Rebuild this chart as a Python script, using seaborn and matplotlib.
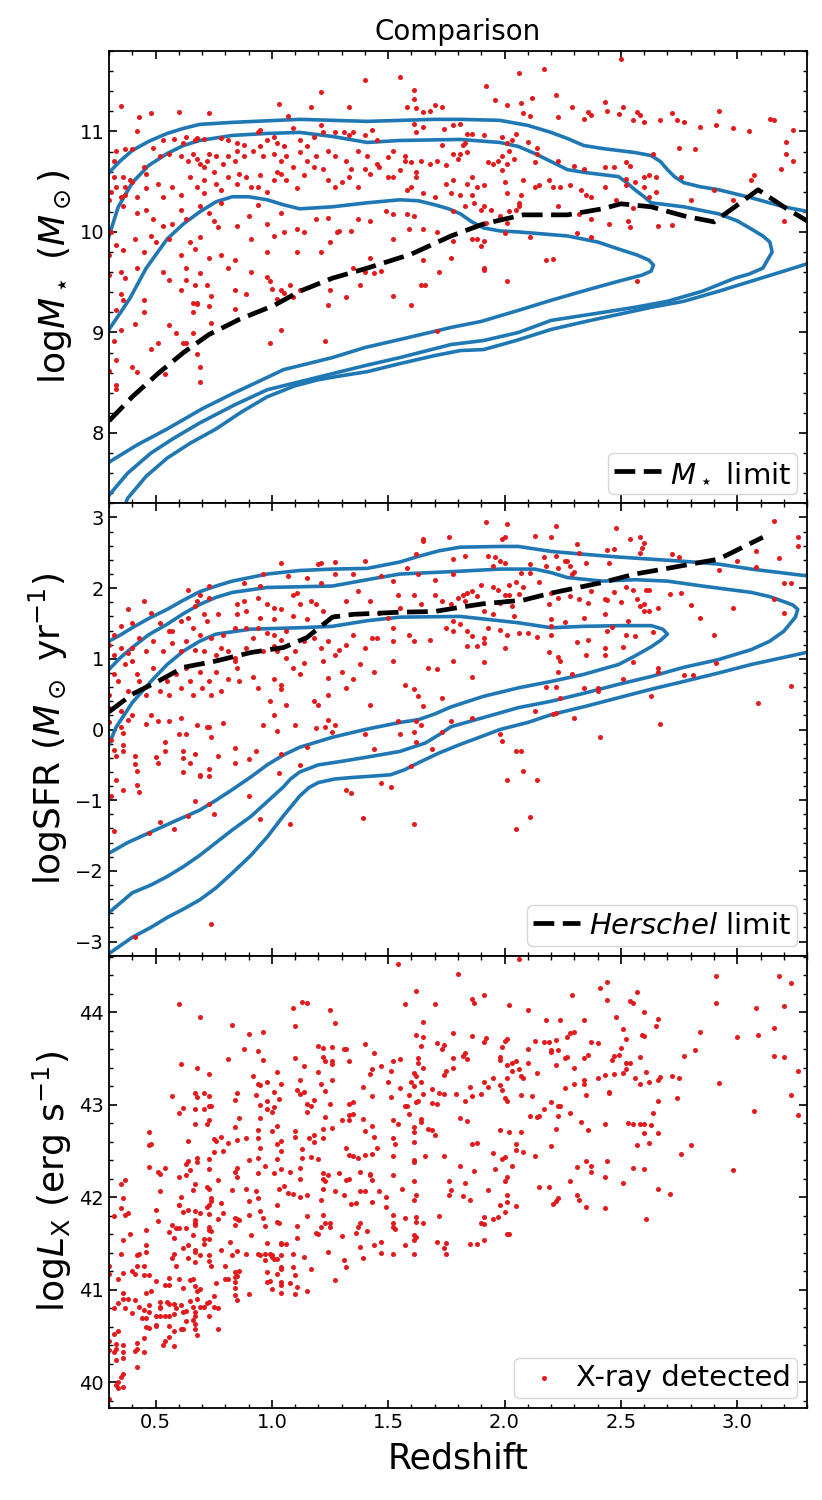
import matplotlib
matplotlib.use("Agg")
import matplotlib.pyplot as plt
from matplotlib.ticker import MultipleLocator, AutoMinorLocator
import seaborn as sns

RED = "#e31a1c"
BLUE = "#1f77b4"

# ---------------- top panel: stellar mass (z, logM*) ----------------
mass_points = [
    (0.35,11.25),(0.43,11.14),(0.48,11.18),(0.60,11.19),(0.73,11.18),(1.03,11.27),(1.07,11.15),(1.17,11.24),
    (1.21,11.39),(1.33,11.24),(1.40,11.51),(1.55,11.54),(1.61,11.41),(1.61,11.32),(1.58,11.24),(1.62,11.23),
    (1.65,11.19),(1.68,11.20),(1.70,11.26),(1.73,11.24),(0.42,11.00),(0.33,10.81),(0.37,10.83),(0.40,10.83),
    (0.49,10.84),(0.53,10.91),(0.58,10.92),(0.62,10.88),(0.63,10.94),(0.67,10.91),(0.68,10.93),(0.71,10.92),
    (0.78,10.93),(0.81,10.91),(0.85,10.88),(0.88,10.86),(0.94,10.99),(0.95,11.01),(0.98,10.91),(1.01,10.94),
    (1.02,10.88),(1.05,10.85),(1.09,11.03),(1.12,10.91),(1.15,10.85),(1.18,10.94),(1.21,11.06),(1.22,10.99),
    (1.27,10.99),(1.31,10.99),(1.33,10.96),(1.35,10.99),(1.40,10.96),(1.43,11.01),(1.45,10.91),(1.52,10.81),
    (1.57,10.76),(1.61,11.07),(1.62,10.99),(1.65,11.04),(1.74,11.02),(1.78,11.06),(1.81,11.07),(1.73,10.86),
    (1.78,10.78),(0.32,10.71),(0.32,10.55),(0.36,10.55),(0.33,10.45),(0.37,10.45),(0.40,10.50),(0.45,10.65),
    (0.46,10.58),(0.52,10.76),(0.56,10.78),(0.61,10.76),(0.64,10.71),(0.66,10.78),(0.68,10.73),(0.69,10.68),
    (0.71,10.65),(0.72,10.71),(0.73,10.78),(0.76,10.76),(0.79,10.68),(0.81,10.76),(0.85,10.81),(0.84,10.71),
    (0.88,10.76),(0.92,10.81),(0.95,10.85),(0.96,10.76),(1.01,10.78),(1.04,10.71),(1.06,10.76),(1.12,10.80),
    (1.15,10.71),(1.19,10.76),(1.24,10.81),(1.27,10.76),(1.32,10.71),(1.37,10.81),(1.41,10.76),(1.45,10.68),
    (1.50,10.75),(1.57,10.71),(1.60,10.70),(1.64,10.71),(1.68,10.68),(1.71,10.71),(1.75,10.67),(1.80,10.73),
    (0.35,10.35),(0.37,10.37),(0.31,10.40),(0.39,10.52),(0.42,10.35),(0.46,10.44),(0.51,10.48),(0.53,10.35),
    (0.57,10.45),(0.61,10.37),(0.65,10.55),(0.68,10.45),(0.71,10.52),(0.71,10.39),(0.75,10.60),(0.76,10.48),
    (0.78,10.42),(0.81,10.55),(0.85,10.48),(0.86,10.58),(0.89,10.55),(0.91,10.45),(0.94,10.45),(0.95,10.57),
    (0.98,10.40),(1.01,10.52),(1.02,10.60),(1.04,10.58),(1.06,10.52),(1.09,10.65),(1.11,10.44),(1.14,10.57),
    (1.18,10.65),(1.22,10.63),(1.24,10.52),(1.27,10.45),(1.30,10.50),(1.33,10.55),(1.34,10.63),(1.37,10.45),
    (1.40,10.63),(1.42,10.58),(1.46,10.65),(1.50,10.55),(1.52,10.55),(1.55,10.62),(1.58,10.42),(1.60,10.45),
    (1.62,10.60),(1.62,10.55),(1.65,10.39),(1.70,10.35),(1.75,10.48),(1.77,10.39),(0.30,10.32),(0.36,10.26),
    (0.42,10.19),(0.46,10.22),(0.49,10.13),(0.53,10.06),(0.57,10.08),(0.61,10.22),(0.63,10.13),(0.69,10.26),
    (0.73,10.19),(0.75,10.11),(0.77,10.05),(0.78,10.29),(0.85,10.06),(0.90,10.16),(0.94,10.27),(0.98,10.08),
    (1.04,10.19),(1.05,10.00),(1.11,10.03),(1.14,10.00),(1.19,10.13),(1.24,10.14),(1.28,10.00),(1.34,10.01),
    (1.37,10.13),(1.42,10.11),(1.49,10.21),(1.52,10.18),(1.58,10.18),(1.61,10.16),(1.65,10.03),(1.71,10.00),
    (1.78,10.21),(0.31,10.00),(0.33,9.87),(0.36,9.82),(0.30,9.77),(0.41,9.93),(0.45,9.80),(0.48,9.96),
    (0.50,9.90),(0.56,9.93),(0.61,9.77),(0.65,9.90),(0.67,9.83),(0.69,9.95),(0.73,9.74),(0.78,9.77),
    (0.81,9.64),(0.84,9.72),(0.91,9.93),(0.98,9.80),(1.01,9.96),(1.11,9.80),(1.21,9.80),(1.25,9.90),
    (1.29,10.01),(1.35,9.64),(1.42,9.74),(1.52,9.93),(1.59,10.03),(1.65,9.72),(1.72,9.60),(1.77,9.74),
    (0.30,9.57),(0.35,9.60),(0.42,9.64),(0.53,9.60),(0.63,9.64),(0.69,9.59),
    (0.37,9.54),(0.35,9.38),(0.36,9.32),(0.45,9.32),(0.45,9.20),(0.33,9.22),(0.35,9.02),(0.32,8.92),
    (0.41,9.08),(0.33,8.73),(0.30,8.62),(0.40,8.66),(0.42,8.61),(0.33,8.48),(0.33,8.44),(0.48,8.84),
    (0.51,8.90),(0.54,8.59),(0.56,9.52),(0.61,9.42),(0.63,9.52),(0.67,9.47),(0.66,9.29),(0.68,9.29),
    (0.68,9.28),(0.66,9.20),(0.56,9.07),(0.59,8.99),(0.62,8.90),(0.63,8.90),(0.66,8.99),(0.68,8.79),
    (0.69,8.66),(0.69,8.51),(0.72,9.47),(0.73,9.26),(0.74,9.36),(0.74,9.09),(0.84,9.42),(0.84,9.23),
    (0.89,9.38),(0.91,9.60),(0.98,9.55),(0.99,9.51),(1.00,9.43),(1.02,9.33),(1.04,9.42),(1.05,9.39),
    (1.08,9.47),(1.09,9.35),(1.04,9.02),(0.99,8.90),(1.12,9.42),(1.24,9.27),(1.23,8.92),(1.25,9.42),
    (1.32,9.35),(1.38,9.47),(1.40,9.60),(1.44,9.59),(1.47,9.61),(1.52,9.36),(1.60,9.27),(1.64,9.47),
    (1.66,9.47),(1.71,9.01),
    (2.50,11.72),(2.17,11.62),(2.06,11.58),(1.92,11.45),(1.96,11.31),(2.01,11.26),(2.07,11.28),(2.12,11.33),
    (2.22,11.36),(2.08,11.18),(2.11,11.15),(2.23,11.14),(2.29,11.24),(2.36,11.19),(2.37,11.16),(2.34,11.12),
    (2.43,11.29),(2.44,11.20),(2.51,11.24),(2.49,11.17),(2.57,11.19),(2.58,11.16),(2.55,11.11),(2.60,11.09),
    (2.67,11.11),(2.72,11.18),(2.74,11.11),(2.77,11.09),(2.92,11.20),(2.91,11.06),(2.84,11.04),(2.98,11.03),
    (3.05,11.00),(3.14,11.12),(3.16,11.11),(3.24,11.01),(3.21,10.89),(3.21,10.78),(3.24,10.71),(3.19,10.63),
    (3.07,10.57),(3.06,10.52),(2.76,10.55),(2.75,10.84),(2.82,10.83),(2.64,10.78),(2.60,10.55),(2.62,10.57),
    (2.65,10.55),(2.60,10.45),(2.62,10.35),(2.65,10.40),(2.80,10.32),(2.90,10.42),(2.98,10.32),(3.20,10.11),
    (2.72,10.07),(2.66,10.06),(2.54,10.05),(2.53,10.11),(2.55,10.24),(2.56,10.50),(2.52,10.53),(2.52,10.47),
    (2.52,10.70),(2.54,10.66),(2.47,10.65),(2.43,10.65),(2.43,10.45),(2.48,10.32),(2.45,10.08),(2.37,10.13),
    (2.32,10.18),(2.34,10.63),(2.35,10.37),(2.37,10.35),(2.33,10.42),(2.30,10.66),(2.28,10.47),(2.23,10.71),
    (2.19,10.52),(2.21,10.45),(2.24,10.45),(2.23,10.26),(2.15,10.47),(2.14,10.78),(2.14,10.84),(2.10,10.89),
    (2.13,10.70),(2.13,10.45),(2.08,10.52),(2.07,10.37),(2.06,10.29),(2.06,10.26),(2.05,10.22),(2.04,10.73),
    (2.05,10.97),(2.03,10.91),(2.02,10.81),(2.01,10.88),(1.99,10.94),(1.97,10.71),(1.99,10.76),(2.01,10.68),
    (2.00,10.50),(2.01,10.39),(1.99,10.62),(2.02,10.21),(2.01,10.09),(1.98,10.16),(1.95,10.68),(1.93,10.70),
    (1.91,10.96),(1.86,10.97),(1.84,10.97),(1.83,10.88),(1.82,10.86),(1.81,10.78),(1.84,10.80),(1.86,10.55),
    (1.84,10.48),(1.88,10.45),(1.91,10.47),(1.86,10.37),(1.81,10.37),(1.78,10.52),(1.83,10.26),(1.87,10.29),
    (1.90,10.22),(1.91,10.26),(1.94,10.22),(1.92,10.09),(1.88,9.93),(1.91,9.91),(1.90,9.86),(1.91,9.64),
    (2.00,9.99),(2.11,9.95),(2.18,9.72),(2.21,9.73),(2.31,9.99),(2.37,9.95),(1.78,9.91),(1.86,9.93),
    (1.91,9.62),(2.01,9.51),(2.57,9.51),
]

mass_limit_z = [0.30, 0.40, 0.51, 0.62, 0.73, 0.86, 1.01, 1.12, 1.26, 1.41, 1.60, 1.77,
                1.91, 2.08, 2.27, 2.42, 2.50, 2.63, 2.77, 2.90, 2.99, 3.09, 3.20, 3.30]
mass_limit = [8.12, 8.36, 8.59, 8.80, 8.98, 9.13, 9.27, 9.41, 9.54, 9.64, 9.78, 9.96,
              10.08, 10.17, 10.17, 10.23, 10.28, 10.25, 10.16, 10.10, 10.25, 10.42, 10.25, 10.11]

# density contours of the parent sample (traced)
mass_outer_top_z = [0.28, 0.30, 0.35, 0.40, 0.47, 0.55, 0.62, 0.69, 0.83, 1.12, 1.41, 1.70, 1.81,
                    1.98, 2.10, 2.20, 2.27, 2.34, 2.42, 2.49, 2.56, 2.63, 2.67, 2.70, 2.73, 2.77,
                    2.84, 2.92, 3.06, 3.20, 3.31, 3.40]
mass_outer_top = [10.50, 10.59, 10.71, 10.81, 10.90, 10.98, 11.03, 11.07, 11.09, 11.12, 11.10, 11.12, 11.12,
                  11.11, 11.06, 10.99, 10.93, 10.86, 10.83, 10.81, 10.79, 10.76, 10.70, 10.62, 10.55, 10.49,
                  10.45, 10.42, 10.34, 10.25, 10.20, 10.12]
mass_outer_bot_z = [0.33, 0.38, 0.46, 0.55, 0.65, 0.76, 0.87, 0.98, 1.10, 1.20, 1.30, 1.41, 1.55,
                    1.70, 1.81, 1.91, 2.05, 2.20, 2.35, 2.49, 2.63, 2.77, 2.92, 3.06, 3.20, 3.31, 3.40]
mass_outer_bot = [7.05, 7.35, 7.57, 7.75, 7.90, 8.04, 8.21, 8.36, 8.47, 8.53, 8.57, 8.61, 8.69,
                  8.77, 8.82, 8.83, 8.92, 9.03, 9.11, 9.18, 9.25, 9.31, 9.41, 9.51, 9.61, 9.69, 9.76]
mass_mid_z = [0.28, 0.30, 0.34, 0.40, 0.47, 0.55, 0.62, 0.69, 0.83, 0.98, 1.12, 1.26, 1.41, 1.55,
              1.81, 1.98, 2.06, 2.13, 2.20, 2.27, 2.35, 2.42, 2.49, 2.52, 2.56, 2.60, 2.63, 2.70,
              2.77, 2.92, 3.00, 3.06, 3.11, 3.14, 3.15, 3.11, 3.05, 2.99, 2.85, 2.70, 2.56, 2.45,
              2.34, 2.20, 2.06, 1.91, 1.77, 1.55, 1.40, 1.26, 1.12, 0.98, 0.84, 0.69, 0.58, 0.48,
              0.38, 0.30, 0.28]
mass_mid = [9.80, 9.96, 10.25, 10.49, 10.66, 10.78, 10.86, 10.91, 10.96, 10.98, 10.99, 10.95, 10.89, 10.91,
            10.92, 10.89, 10.85, 10.78, 10.70, 10.62, 10.59, 10.57, 10.55, 10.50, 10.42, 10.35, 10.29, 10.27,
            10.25, 10.18, 10.11, 10.03, 9.96, 9.90, 9.80, 9.64, 9.58, 9.54, 9.41, 9.31, 9.25, 9.21,
            9.17, 9.12, 9.00, 8.92, 8.88, 8.75, 8.67, 8.59, 8.51, 8.43, 8.28, 8.10, 7.95, 7.80,
            7.60, 7.38, 7.25]
mass_inner_z = [0.25, 0.30, 0.35, 0.39, 0.46, 0.55, 0.62, 0.69, 0.76, 0.83, 0.90, 0.98, 1.05, 1.12,
                1.26, 1.41, 1.55, 1.63, 1.70, 1.76, 1.81, 1.86, 1.91, 1.98, 2.06, 2.27, 2.40, 2.49,
                2.57, 2.62, 2.64, 2.63, 2.59, 2.49, 2.35, 2.20, 2.06, 1.90, 1.77, 1.55, 1.40, 1.26,
                1.05, 0.95, 0.83, 0.70, 0.55, 0.42, 0.30, 0.25]
mass_inner = [8.70, 9.03, 9.20, 9.34, 9.64, 9.93, 10.08, 10.20, 10.30, 10.35, 10.35, 10.32, 10.27, 10.23,
              10.25, 10.29, 10.32, 10.31, 10.27, 10.23, 10.18, 10.10, 10.04, 10.01, 10.00, 9.96, 9.90, 9.83,
              9.77, 9.72, 9.67, 9.61, 9.57, 9.51, 9.42, 9.32, 9.22, 9.11, 9.05, 8.93, 8.85, 8.75,
              8.63, 8.52, 8.39, 8.24, 8.04, 7.88, 7.71, 7.65]

# ---------------- middle panel: star formation rate (z, logSFR) ----------------
sfr_points = [
    (1.65,2.69),(1.65,2.67),(1.76,2.72),(1.40,2.38),(1.27,2.37),(1.21,2.36),(1.20,2.34),(1.04,2.36),
    (1.78,2.41),(1.62,2.48),(1.58,2.29),(1.63,2.20),(1.70,2.12),(1.78,2.20),(1.52,2.10),(1.47,2.17),
    (1.35,2.20),(1.27,2.20),(1.21,2.08),(1.15,2.15),(1.07,2.17),(0.96,2.20),(0.88,2.08),(0.95,2.03),
    (0.73,2.03),(0.64,1.98),(0.45,1.82),(0.38,1.70),(0.48,1.65),(0.40,1.51),(0.52,1.51),(0.56,1.39),
    (0.35,1.46),(0.32,1.34),(0.69,1.91),(0.68,1.82),(0.67,1.75),(0.73,1.86),(0.77,1.63),(0.85,1.77),
    (0.88,1.82),(0.94,1.86),(0.98,1.77),(1.01,1.72),(0.89,1.68),(0.85,1.63),(0.95,1.58),(1.01,1.56),
    (1.04,1.70),(1.09,1.91),(1.11,1.93),(1.12,1.77),(1.17,1.82),(1.19,1.77),(1.22,1.68),(1.15,1.56),
    (1.09,1.60),(1.06,1.39),(1.04,1.27),(1.01,1.34),(0.98,1.37),(0.94,1.44),(0.89,1.44),(0.84,1.44),
    (0.79,1.34),(0.74,1.30),(0.69,1.34),(0.66,1.44),(0.64,1.58),(0.61,1.53),(0.57,1.39),(0.72,1.53),
    (0.71,1.63),(1.27,1.60),(1.32,1.82),(1.37,1.96),(1.42,1.82),(1.46,1.65),(1.50,1.58),(1.54,1.91),
    (1.55,1.72),(1.61,1.91),(1.64,1.77),(1.70,1.91),(1.73,1.82),(1.77,1.77),(1.80,1.86),(1.78,1.53),
    (1.75,1.44),(1.68,1.27),(1.61,1.25),(1.59,1.34),(1.52,1.25),(1.52,1.44),(1.45,1.30),(1.43,1.30),
    (1.40,1.16),(1.35,1.34),(1.32,1.20),(1.29,1.13),(1.24,1.25),(1.21,1.16),(1.18,1.30),(1.14,1.25),
    (1.10,1.11),(1.06,1.01),(1.02,1.11),(1.01,1.18),(0.96,1.11),(0.92,1.30),(0.89,1.16),(0.84,1.01),
    (0.84,0.97),(0.81,1.11),(0.78,1.16),(0.76,1.06),(0.71,1.11),(0.67,1.13),(0.63,1.25),(0.61,1.11),
    (0.57,1.23),(0.53,1.11),(0.49,1.25),(0.46,1.11),(0.43,1.30),(0.40,1.16),(0.38,1.08),(0.35,1.16),
    (0.32,1.06),(0.30,1.20),(0.32,0.78),(0.34,0.68),(0.37,0.92),(0.40,0.97),(0.42,0.78),(0.43,0.68),
    (0.46,0.49),(0.49,0.87),(0.52,0.54),(0.55,0.68),(0.56,0.49),(0.59,0.78),(0.61,0.59),(0.63,0.87),
    (0.65,0.68),(0.66,0.49),(0.69,0.82),(0.70,0.59),(0.73,0.68),(0.74,0.49),(0.76,0.82),(0.78,0.54),
    (0.81,0.71),(0.85,0.87),(0.86,0.68),(0.92,0.75),(0.94,0.59),(0.99,0.40),(1.01,0.71),(1.04,0.63),
    (1.04,0.57),(1.09,0.87),(1.12,0.78),(1.14,0.94),(1.18,0.40),(1.20,0.35),(1.22,0.97),(1.24,0.73),
    (1.24,0.49),(1.27,1.06),(1.30,0.82),(1.32,0.59),(1.35,0.71),(1.38,0.92),(1.42,0.35),(1.44,0.82),
    (1.52,0.97),(1.57,0.63),(1.61,0.57),(1.63,0.47),(1.65,0.33),(1.67,0.87),(1.71,0.85),(1.73,0.45),
    (1.78,0.97),(0.30,0.49),(0.30,0.30),(0.35,0.26),(0.38,0.54),(0.40,0.21),(0.48,0.21),(0.51,0.12),
    (0.56,0.12),(0.61,0.16),(0.68,0.07),(0.73,0.04),(0.79,0.09),(0.96,0.07),(1.01,0.21),(1.06,0.35),
    (1.19,0.02),(1.24,0.14),(1.27,0.07),(1.54,0.12),(1.64,0.07),(1.77,0.12),
    (1.92,2.94),(2.01,2.91),(2.22,2.88),(2.48,2.85),(3.16,2.95),(3.26,2.73),(3.26,2.60),(2.13,2.74),
    (2.20,2.72),(2.31,2.63),(2.54,2.69),(2.58,2.73),(2.60,2.64),(2.59,2.57),(2.58,2.50),(2.47,2.56),
    (2.44,2.54),(2.32,2.50),(2.00,2.72),(1.99,2.69),(1.83,2.46),(1.93,2.46),(1.96,2.44),(1.98,2.38),
    (2.00,2.35),(1.95,2.31),(2.11,2.34),(2.17,2.44),(2.18,2.32),(2.22,2.46),(2.23,2.29),(2.26,2.38),
    (2.27,2.38),(2.28,2.31),(2.30,2.23),(2.29,2.20),(2.35,2.36),(2.45,2.35),(2.72,2.48),(2.75,2.44),
    (3.08,2.52),(3.18,2.42),(3.00,2.38),(2.92,2.25),(3.08,2.30),(3.20,2.08),(3.23,2.08),(3.16,1.85),
    (3.20,1.65),(2.98,1.72),(2.84,1.58),(2.80,1.76),(2.76,1.93),(2.71,1.92),(2.66,1.72),(2.61,1.97),
    (2.62,1.98),(2.55,1.98),(2.52,2.01),(2.47,1.95),(2.43,1.84),(2.44,1.83),(2.50,1.81),(2.57,1.84),
    (2.58,1.75),(2.60,1.77),(2.60,1.68),(2.62,1.67),(2.43,1.63),(2.37,1.96),(2.36,1.79),(2.32,1.84),
    (2.28,1.89),(2.23,1.86),(2.20,1.93),(2.19,1.77),(2.15,2.09),(2.11,2.21),(2.07,2.22),(2.05,2.09),
    (2.08,2.01),(2.06,1.92),(2.02,2.05),(2.02,1.91),(2.01,1.82),(2.03,1.75),(2.00,1.91),(1.98,1.79),
    (1.95,2.01),(1.97,1.98),(1.90,2.05),(1.86,1.96),(1.84,1.93),(1.88,1.89),(1.82,1.91),(1.83,1.82),
    (1.91,1.68),(1.95,1.64),(2.04,1.60),(2.20,1.56),(2.26,1.52),(2.34,1.58),(1.78,1.39),(1.81,1.49),
    (1.84,1.39),(1.86,1.33),(1.91,1.30),(1.93,1.44),(1.98,1.41),(2.01,1.34),(2.00,1.15),(2.06,1.37),
    (2.10,1.37),(2.14,1.31),(2.20,1.34),(2.20,1.46),(2.31,1.24),(2.36,1.26),(2.35,1.06),(2.43,1.15),
    (2.44,1.40),(2.46,1.45),(2.51,1.17),(2.52,1.34),(2.56,1.32),(2.53,1.54),(2.64,1.38),(2.90,1.34),
    (1.84,1.18),(1.88,1.18),(1.91,1.23),(1.91,0.96),(1.86,0.74),(2.19,1.10),(2.23,1.02),(2.24,0.97),
    (2.23,0.82),(2.43,1.06),(2.55,0.96),(2.66,0.87),(2.66,0.82),(2.29,0.78),(2.51,0.71),(2.77,0.77),
    (2.81,0.77),(2.91,0.94),(2.18,0.60),(2.22,0.60),(2.34,0.59),(2.40,0.59),(2.40,0.54),(2.24,0.44),
    (2.63,0.48),(3.23,0.61),(3.09,0.37),(2.13,0.26),(2.21,0.22),(2.22,0.23),(2.30,0.16),(1.86,0.17),
    (2.67,0.08),
    (0.30,0.11),(0.38,0.14),(0.46,0.08),(0.72,0.04),(0.74,-0.10),(0.36,-0.05),(0.35,0.04),(0.36,-0.22),
    (0.36,-0.30),(0.32,-0.29),(0.33,-0.37),(0.31,-0.15),(0.33,-0.71),(0.36,-0.85),(0.31,-0.94),(0.32,-1.44),
    (0.41,-0.37),(0.41,-0.49),(0.42,-0.59),(0.42,-0.79),(0.43,-0.89),(0.50,-0.39),(0.51,-0.47),(0.54,-0.17),
    (0.54,-0.31),(0.60,-0.07),(0.63,-0.06),(0.62,-0.30),(0.62,-0.40),(0.62,-0.60),(0.65,-0.47),(0.67,-0.34),
    (0.69,-0.64),(0.69,-0.66),(0.73,-0.56),(0.73,-0.66),(0.73,-1.05),(0.75,-1.19),(0.77,-0.38),(0.67,-1.01),
    (0.64,-1.22),(0.52,-1.31),(0.58,-1.41),(0.47,-1.46),(0.41,-2.94),(0.74,-2.75),(0.84,-0.26),(0.84,-0.47),
    (0.90,-0.41),(0.90,-0.94),(0.93,-0.31),(1.02,-0.02),(1.04,-0.34),(1.03,-0.62),(0.95,-1.26),(1.08,-1.34),
    (1.10,0.07),(1.12,-0.50),(1.15,-0.25),(1.23,0.04),(1.26,-0.03),(1.32,-0.85),(1.34,-0.90),(1.39,-1.25),
    (1.40,-0.07),(1.44,-0.28),(1.47,-0.76),(1.51,-0.82),(1.55,-0.06),(1.61,-1.33),(1.60,-0.52),(1.61,-0.04),
    (1.62,-0.18),(1.69,-0.27),(1.73,-0.04),(1.62,0.12),
    (1.98,-0.06),(1.99,-0.16),(2.05,-0.30),(2.07,-0.31),(2.08,-0.59),(2.01,-0.71),(2.14,-0.71),(2.11,-1.24),
    (2.05,-1.41),(2.41,-0.10),
]

sfr_limit_z = [0.30, 0.40, 0.51, 0.62, 0.76, 0.91, 1.05, 1.15, 1.26, 1.35, 1.55,
               1.70, 1.81, 1.91, 2.08, 2.20, 2.42, 2.56, 2.70, 2.85, 2.92, 3.11]
sfr_limit = [0.25, 0.50, 0.68, 0.88, 0.97, 1.09, 1.16, 1.30, 1.59, 1.63, 1.66,
             1.67, 1.73, 1.78, 1.83, 1.93, 2.08, 2.20, 2.28, 2.37, 2.41, 2.72]

sfr_outer_top_z = [0.28, 0.30, 0.35, 0.40, 0.47, 0.55, 0.62, 0.69, 0.76, 0.83, 0.98, 1.12, 1.26,
                   1.41, 1.55, 1.63, 1.72, 1.81, 1.98, 2.06, 2.20, 2.34, 2.49, 2.77, 2.92, 3.06,
                   3.31, 3.40]
sfr_outer_top = [1.15, 1.25, 1.34, 1.44, 1.57, 1.70, 1.83, 1.95, 2.03, 2.10, 2.20, 2.25, 2.27,
                 2.28, 2.37, 2.45, 2.53, 2.58, 2.59, 2.59, 2.52, 2.48, 2.44, 2.38, 2.34, 2.27,
                 2.17, 2.14]
sfr_outer_bot_z = [0.28, 0.30, 0.40, 0.48, 0.55, 0.62, 0.69, 0.76, 0.83, 0.91, 0.98, 1.05, 1.12,
                   1.16, 1.20, 1.27, 1.34, 1.43, 1.51, 1.57, 1.63, 1.72, 1.81, 1.90, 1.98, 2.10,
                   2.20, 2.35, 2.49, 2.63, 2.77, 2.92, 3.06, 3.20, 3.31, 3.40]
sfr_outer_bot = [-3.30, -3.17, -2.94, -2.80, -2.66, -2.54, -2.41, -2.24, -2.03, -1.78, -1.52, -1.22, -0.94,
                 -0.82, -0.75, -0.70, -0.68, -0.66, -0.64, -0.57, -0.47, -0.33, -0.21, -0.10, 0.00, 0.10,
                 0.21, 0.33, 0.45, 0.57, 0.68, 0.80, 0.92, 1.02, 1.10, 1.17]
sfr_mid_z = [0.28, 0.30, 0.35, 0.40, 0.47, 0.55, 0.62, 0.69, 0.76, 0.83, 0.98, 1.26, 1.41, 1.55,
             1.81, 1.98, 2.13, 2.20, 2.27, 2.42, 2.56, 2.70, 2.85, 3.06, 3.14, 3.20, 3.24, 3.26,
             3.25, 3.20, 3.14, 3.06, 2.92, 2.77, 2.63, 2.49, 2.35, 2.20, 2.06, 1.91, 1.77, 1.72,
             1.66, 1.55, 1.41, 1.30, 1.20, 1.16, 1.12, 1.08, 1.05, 0.98, 0.91, 0.83, 0.76, 0.69,
             0.62, 0.55, 0.48, 0.40, 0.30, 0.28]
sfr_mid = [0.80, 0.85, 1.02, 1.16, 1.34, 1.49, 1.64, 1.77, 1.87, 1.94, 2.01, 2.03, 2.12, 2.20,
           2.24, 2.27, 2.27, 2.22, 2.15, 2.10, 2.12, 2.10, 2.03, 1.94, 1.88, 1.81, 1.76, 1.70,
           1.59, 1.39, 1.25, 1.13, 0.99, 0.88, 0.75, 0.64, 0.52, 0.40, 0.31, 0.17, 0.04, -0.07,
           -0.19, -0.31, -0.39, -0.45, -0.50, -0.55, -0.60, -0.70, -0.81, -1.02, -1.23, -1.42, -1.60, -1.78,
           -1.94, -2.08, -2.20, -2.31, -2.59, -2.65]
sfr_inner_z = [0.28, 0.30, 0.33, 0.40, 0.48, 0.55, 0.62, 0.69, 0.76, 0.91, 1.12, 1.26, 1.41, 1.55,
               1.81, 2.06, 2.20, 2.34, 2.50, 2.63, 2.68, 2.70, 2.67, 2.63, 2.56, 2.49, 2.34, 2.20,
               2.06, 1.91, 1.77, 1.70, 1.63, 1.55, 1.40, 1.26, 1.12, 1.05, 0.98, 0.91, 0.83, 0.76,
               0.69, 0.58, 0.48, 0.38, 0.30, 0.28]
sfr_inner = [-0.45, -0.21, 0.03, 0.38, 0.68, 0.92, 1.11, 1.25, 1.35, 1.42, 1.44, 1.46, 1.54, 1.59,
             1.60, 1.51, 1.44, 1.46, 1.47, 1.47, 1.42, 1.35, 1.26, 1.17, 1.04, 0.92, 0.78, 0.68,
             0.59, 0.47, 0.32, 0.22, 0.14, 0.10, 0.00, -0.11, -0.25, -0.36, -0.50, -0.67, -0.85, -1.00,
             -1.14, -1.30, -1.45, -1.60, -1.75, -1.79]

# ---------------- bottom panel: X-ray luminosity (z, logLX) ----------------
lx_points = [
    (1.54,44.52),(1.80,44.41),(1.62,44.23),(0.60,44.09),(0.69,43.95),(1.13,44.11),(1.15,44.10),(1.09,44.04),
    (1.10,43.85),(1.25,44.02),(1.27,43.88),(0.83,43.86),(1.57,44.09),(1.70,44.09),(1.65,43.89),(1.62,43.75),
    (1.65,43.73),(1.64,43.63),(1.71,43.67),(1.74,43.65),(1.73,43.60),(1.78,43.77),(0.90,43.76),(0.96,43.78),
    (0.88,43.60),(0.94,43.58),(0.96,43.48),(0.81,43.49),(0.61,43.44),(0.68,43.40),(0.73,43.33),(0.92,43.31),
    (0.94,43.22),(0.95,43.21),(1.02,43.35),(0.98,43.24),(1.04,43.22),(1.10,43.50),(1.14,43.42),(1.12,43.27),
    (1.11,43.16),(1.12,43.12),(1.14,43.14),(1.20,43.63),(1.22,43.61),(1.26,43.62),(1.22,43.52),(1.23,43.47),
    (1.26,43.44),(1.26,43.47),(1.20,43.35),(1.26,43.27),(1.21,43.22),(1.23,43.15),(1.31,43.60),(1.32,43.60),
    (1.33,43.47),(1.40,43.66),(1.44,43.56),(1.43,43.39),(1.42,43.33),(1.47,43.42),(1.39,43.19),(1.50,43.24),
    (1.51,43.36),(1.52,43.47),(1.55,43.49),(1.55,43.18),(1.60,43.24),(1.61,43.34),(1.62,43.31),(1.61,43.20),
    (1.63,43.50),(1.63,43.45),(1.65,43.40),(1.64,43.24),(1.65,43.12),(1.59,43.10),(1.62,43.03),(1.63,43.04),
    (1.69,43.17),(1.72,43.13),(1.74,43.12),(1.71,43.01),(1.69,43.02),(1.75,43.36),(1.74,43.32),(1.78,43.40),
    (1.79,43.12),(1.78,43.50),(1.43,43.09),(1.51,43.08),
    (0.57,43.09),(0.67,43.13),(0.71,43.13),(0.68,43.08),(0.73,43.09),(0.73,42.99),(0.74,42.99),(0.71,42.95),
    (0.67,42.95),(0.62,42.96),(0.60,42.91),(0.67,42.79),(0.72,42.79),(0.73,42.83),(0.84,43.05),(0.85,43.13),
    (0.86,42.86),(0.84,42.76),(0.93,43.10),(0.95,43.00),(0.98,43.04),(0.95,42.86),(0.98,42.95),(1.01,43.14),
    (1.01,42.97),(1.00,42.92),(1.03,43.06),(1.00,42.71),(1.02,42.77),(0.94,42.73),(0.94,42.64),(0.95,42.53),
    (0.94,42.42),(0.94,42.26),(1.04,42.61),(1.04,42.50),(1.02,42.57),(1.02,42.41),(0.97,42.34),(1.01,42.26),
    (1.04,42.30),(1.15,43.01),(1.17,42.98),(1.18,43.05),(1.15,42.92),(1.10,42.71),(1.10,42.65),(1.13,42.52),
    (1.16,42.64),(1.18,42.67),(1.18,42.60),(1.22,42.64),(1.22,42.74),(1.23,42.87),(1.25,43.01),(1.26,42.75),
    (1.13,42.42),(1.17,42.43),(1.20,42.41),(1.12,42.32),(1.08,42.27),(1.22,42.26),(1.29,42.26),(1.30,42.83),
    (1.33,43.01),(1.35,43.03),(1.33,42.89),(1.33,42.83),(1.35,42.90),(1.32,42.53),(1.33,42.46),(1.35,42.44),
    (1.37,42.42),(1.40,42.46),(1.38,42.27),(1.40,42.71),(1.39,42.84),(1.43,42.77),(1.44,42.65),(1.45,42.53),
    (1.43,42.47),(1.42,42.25),(1.52,42.83),(1.54,42.79),(1.52,42.64),(1.53,42.57),(1.52,42.44),(1.57,42.98),
    (1.58,42.99),(1.59,42.90),(1.61,42.76),(1.61,42.70),(1.61,42.60),(1.61,42.40),(1.61,42.38),(1.64,42.85),
    (1.64,42.81),(1.67,42.74),(1.69,42.73),(1.70,42.67),(1.66,42.44),(1.74,42.44),(1.81,42.86),(1.81,42.34),
    (0.47,42.70),(0.47,42.56),(0.48,42.57),(0.47,42.33),(0.51,42.27),(0.52,42.25),(0.54,42.31),(0.65,42.29),
    (0.63,42.36),(0.64,42.39),(0.68,42.38),(0.68,42.42),(0.64,42.61),(0.73,42.41),(0.73,42.30),(0.75,42.49),
    (0.76,42.61),(0.75,42.63),(0.78,42.65),(0.79,42.50),(0.81,42.59),(0.85,42.62),(0.89,42.64),(0.90,42.40),
    (0.84,42.27),(0.85,42.32),
    (0.37,42.19),(0.35,42.14),(0.36,41.99),(0.35,41.88),(0.37,41.81),(0.38,41.83),(0.32,41.80),(0.52,42.07),
    (0.60,41.91),(0.61,42.00),(0.50,41.86),(0.51,41.74),(0.39,41.60),(0.46,41.65),(0.36,41.54),(0.35,41.38),
    (0.30,41.26),(0.30,41.17),(0.36,41.18),(0.34,41.11),(0.40,41.20),(0.41,41.17),(0.42,41.37),(0.42,41.26),
    (0.43,41.39),(0.46,41.48),(0.46,41.41),(0.45,41.26),(0.47,41.16),(0.45,41.16),(0.50,41.09),(0.48,40.98),
    (0.46,40.96),(0.36,40.96),(0.36,40.90),(0.38,40.90),(0.34,40.86),(0.32,40.80),(0.37,40.80),(0.40,40.75),
    (0.41,40.89),(0.43,40.81),(0.45,40.78),(0.47,40.83),(0.47,40.76),(0.44,40.69),(0.46,40.69),(0.46,40.60),
    (0.47,40.59),(0.52,40.87),(0.52,40.81),(0.52,40.80),(0.55,40.87),(0.56,40.85),(0.58,40.85),(0.50,40.71),
    (0.52,40.71),(0.54,40.71),(0.56,40.72),(0.58,40.74),(0.59,40.80),(0.61,40.83),(0.63,40.77),(0.63,40.66),
    (0.61,40.57),(0.62,40.57),(0.58,40.55),(0.56,40.61),(0.50,40.61),(0.50,40.62),(0.56,40.49),(0.54,40.44),
    (0.53,40.40),(0.58,40.39),(0.45,40.48),(0.45,40.33),(0.42,40.42),(0.42,40.36),(0.41,40.34),(0.42,40.16),
    (0.34,40.55),(0.32,40.52),(0.30,40.45),(0.33,40.41),(0.36,40.40),(0.33,40.36),(0.36,40.33),(0.30,40.35),
    (0.32,40.33),(0.36,40.26),(0.33,40.24),(0.36,40.09),(0.35,40.06),(0.34,40.00),(0.33,39.97),(0.34,39.94),
    (0.36,39.95),(0.30,39.82),
    (0.65,40.88),(0.66,40.81),(0.67,40.76),(0.67,40.71),(0.66,40.67),(0.67,40.63),(0.67,40.57),(0.68,40.51),
    (0.68,40.98),(0.68,40.90),(0.69,40.81),(0.71,40.81),(0.72,40.86),(0.73,40.87),(0.73,40.72),(0.75,40.81),
    (0.77,40.80),(0.77,40.57),(0.62,40.76),(0.67,41.04),(0.69,41.01),(0.65,41.10),(0.66,41.12),(0.62,41.02),
    (0.60,41.11),(0.56,41.13),(0.56,41.05),(0.54,41.05),(0.57,41.34),(0.58,41.39),(0.59,41.26),(0.64,41.34),
    (0.62,41.45),(0.58,41.56),(0.56,41.62),(0.57,41.70),(0.60,41.67),(0.63,41.67),(0.64,41.48),(0.66,41.59),
    (0.67,41.70),(0.67,41.75),(0.67,41.41),(0.67,41.43),(0.67,41.30),(0.69,41.37),(0.71,41.49),(0.71,41.55),
    (0.73,41.68),(0.73,41.65),(0.74,41.63),(0.73,41.55),(0.73,41.37),(0.73,41.31),(0.74,41.26),(0.76,41.07),
    (0.75,40.93),(0.80,41.26),(0.80,41.11),(0.81,41.12),(0.82,41.52),(0.83,41.37),(0.84,41.19),(0.84,41.14),
    (0.84,41.08),(0.84,41.02),(0.84,40.94),(0.85,40.89),(0.85,41.15),(0.86,41.20),(0.85,41.42),(0.78,41.43),
    (0.77,41.76),(0.78,41.94),(0.79,41.83),(0.72,41.89),(0.73,41.82),(0.73,41.91),(0.74,41.99),(0.74,41.96),
    (0.73,42.09),(0.72,42.11),(0.67,41.85),(0.67,41.72),(0.66,42.08),(0.67,42.14),(0.64,41.86),(0.62,41.84),
    (0.60,41.91),(0.59,41.67),(0.60,42.22),(0.63,42.24),(0.69,41.83),(0.77,42.18),(0.83,42.08),(0.85,42.22),
    (0.84,41.77),(0.84,41.70),(0.85,41.76),(0.86,41.75),(0.89,42.09),(0.90,41.81),(0.90,41.96),(0.91,41.59),
    (0.89,41.38),(0.90,40.95),(0.93,42.07),(0.94,41.99),(0.95,41.85),(0.96,41.77),(0.97,41.69),(0.94,41.38),
    (0.95,41.37),(0.97,41.38),(0.98,41.50),(0.97,41.32),(0.98,41.19),(0.98,41.08),(0.99,41.09),(0.99,41.38),
    (1.00,41.35),(1.00,41.37),(1.01,41.33),(1.00,41.01),(1.02,41.33),(1.02,41.17),(1.02,41.91),(1.02,41.73),
    (1.03,41.72),(1.04,41.50),(1.04,41.49),(1.06,41.49),(1.04,41.37),(1.04,41.25),(1.04,41.22),(1.04,41.08),
    (1.04,41.05),(1.04,40.96),(1.03,42.09),(1.05,42.12),(1.07,42.05),(1.09,42.03),(1.09,41.38),(1.09,41.24),
    (1.10,41.16),(1.08,41.07),(1.10,40.95),(1.11,41.56),(1.11,41.69),(1.12,42.20),(1.12,42.00),(1.11,41.03),
    (1.14,41.35),(1.15,41.80),(1.15,42.02),(1.15,40.99),(1.17,41.22),(1.19,41.61),(1.20,41.60),(1.21,41.68),
    (1.21,41.97),(1.22,42.09),(1.22,41.81),(1.22,42.20),(1.23,41.72),(1.24,42.24),(1.23,42.17),(1.24,41.41),
    (1.25,41.72),(1.25,41.68),(1.27,41.10),(1.27,42.07),(1.30,41.58),(1.31,41.32),(1.32,41.25),(1.31,42.02),
    (1.32,42.18),(1.33,42.20),(1.34,41.93),(1.36,41.94),(1.36,41.61),(1.37,41.68),(1.38,41.72),(1.38,42.07),
    (1.40,42.07),(1.38,41.46),(1.39,41.34),(1.41,41.63),(1.42,42.24),(1.43,41.95),(1.43,42.19),(1.44,41.48),
    (1.46,42.07),(1.47,41.40),(1.47,41.51),(1.49,41.89),(1.49,42.00),(1.52,42.24),(1.52,41.39),(1.52,41.81),
    (1.52,41.72),(1.52,41.68),(1.53,41.66),(1.56,42.09),(1.57,41.48),(1.57,41.77),(1.61,42.17),(1.61,41.97),
    (1.62,42.02),(1.62,41.79),(1.62,41.73),(1.61,41.59),(1.62,41.57),(1.61,41.54),(1.61,41.38),(1.65,41.72),
    (1.72,41.80),(1.71,41.52),(1.74,41.45),(1.75,41.50),(1.75,41.38),(1.76,42.17),(1.77,42.08),(1.76,42.02),
    (2.06,44.57),(2.41,44.26),(2.44,44.33),(2.57,44.22),(2.91,44.39),(3.18,44.39),(3.23,44.31),(1.86,44.14),
    (1.87,44.10),(1.91,44.18),(2.02,44.08),(2.10,44.02),(2.29,44.18),(2.44,44.13),(2.54,44.12),(2.55,44.10),
    (2.60,44.00),(2.48,43.95),(2.66,43.93),(2.65,43.85),(2.91,44.10),(3.08,44.05),(3.20,44.07),(3.16,43.83),
    (3.09,43.75),(3.00,43.73),(2.84,43.79),(2.82,43.59),(2.77,43.53),(2.18,43.92),(2.24,43.92),(2.34,43.92),
    (2.51,43.82),(2.52,43.71),(2.50,43.61),(2.49,43.54),(2.47,43.53),(2.46,43.48),(2.59,43.75),(2.60,43.74),
    (2.58,43.52),(2.52,43.45),(2.52,43.39),(2.54,43.45),(2.61,43.35),(2.62,43.24),(2.66,43.27),(2.67,43.30),
    (2.72,43.31),(2.75,43.29),(2.74,43.07),(2.66,43.04),(2.64,42.91),(2.58,43.22),(2.56,43.29),(2.51,43.34),
    (2.47,43.33),(2.43,43.32),(2.40,43.29),(1.86,43.74),(1.91,43.68),(1.92,43.72),(2.00,43.69),(2.01,43.71),
    (1.99,43.62),(2.10,43.60),(2.13,43.69),(2.17,43.68),(2.19,43.68),(2.22,43.70),(2.20,43.59),(2.20,43.57),
    (2.23,43.59),(2.27,43.73),(2.28,43.77),(2.30,43.78),(2.37,43.68),(2.40,43.67),(2.34,43.50),(2.36,43.54),
    (2.26,43.50),(2.27,43.52),(2.22,43.43),(2.30,43.40),(1.82,43.53),(1.83,43.56),(1.84,43.49),(1.98,43.51),
    (1.98,43.48),(2.01,43.43),(2.03,43.45),(2.05,43.47),(2.06,43.39),(2.03,43.36),(2.07,43.31),(2.08,43.29),
    (2.10,43.45),(2.14,43.34),(2.01,43.29),(1.98,43.21),(1.99,43.16),(2.00,43.07),(2.01,43.04),(1.95,43.29),
    (1.91,43.25),(1.93,43.19),(1.85,43.19),(1.86,43.09),(1.90,43.12),(1.83,43.04),(2.07,43.10),(2.12,43.09),
    (2.20,43.03),(2.23,42.98),(2.24,42.99),(2.17,42.95),(2.11,42.88),(2.14,42.87),(2.15,42.88),(2.23,42.88),
    (2.28,42.91),(2.26,43.18),(2.30,43.22),(2.34,43.22),(2.34,43.27),(2.35,43.10),(2.45,43.14),(2.45,43.13),
    (1.84,42.82),(1.98,42.73),(2.02,42.70),(2.07,42.70),(2.22,42.74),(2.33,42.81),(2.36,42.73),(2.43,42.79),
    (2.53,42.80),(2.55,42.79),(2.58,42.79),(2.60,42.79),(2.63,42.78),(2.60,42.69),(2.66,42.69),(2.57,42.56),
    (2.62,42.59),(1.86,42.57),(1.88,42.59),(2.05,42.57),(2.05,42.51),(2.08,42.49),(2.20,42.55),(1.95,42.48),
    (1.99,42.41),(2.00,42.43),(2.03,42.34),(2.13,42.44),(1.96,42.30),(1.87,42.28),(2.31,42.33),(2.35,42.39),
    (2.37,42.34),(2.37,42.27),(2.44,42.39),(2.55,42.31),(2.60,42.30),(2.76,42.47),(2.80,42.56),(2.92,43.23),
    (3.07,42.93),(3.23,43.10),(3.26,43.36),(3.26,42.89),(2.98,42.29),(3.16,43.53),(3.20,43.52),
    (1.83,42.15),(1.82,42.01),(1.85,41.97),(1.93,42.08),(2.00,42.17),(2.01,42.22),(2.01,42.02),(2.01,41.95),
    (1.98,41.91),(2.00,41.84),(2.05,41.90),(1.91,41.79),(1.90,41.72),(1.91,41.71),(1.95,41.76),(1.97,41.79),
    (2.01,41.60),(2.02,41.60),(1.85,41.49),(1.88,41.49),(1.91,41.54),(2.15,42.11),(2.19,42.11),(2.21,41.93),
    (2.22,41.96),(2.23,41.99),(2.28,42.17),(2.31,42.02),(2.32,41.97),(2.35,41.89),(2.43,42.22),(2.43,41.88),
    (2.51,42.15),(2.61,41.76),(2.66,42.09),(2.71,42.03),
]

# ---------------- style ----------------
sns.set_style("ticks", {"axes.edgecolor": "black", "xtick.color": "black", "ytick.color": "black",
                        "text.color": "black", "axes.labelcolor": "black"})
plt.rcParams["font.family"] = ["DejaVu Sans"]
plt.rcParams["mathtext.fontset"] = "dejavusans"

fig, axes = plt.subplots(3, 1, sharex=True, figsize=(8.22, 15.0), dpi=100)
fig.subplots_adjust(left=0.1326, right=0.9818, top=0.966, bottom=0.0613, hspace=0)

LEG = dict(loc="lower right", fontsize=21, borderaxespad=0.33, borderpad=0.22,
           handlelength=1.6, handletextpad=0.3)


def draw_points(ax, pts):
    zs = [p[0] for p in pts]
    vs = [p[1] for p in pts]
    sns.scatterplot(x=zs, y=vs, color=RED, s=13, linewidth=0, ax=ax, zorder=2, legend=False)
    return ax.collections[-1]


def draw_curve(ax, zs, vs, **kw):
    sns.lineplot(x=zs, y=vs, sort=False, estimator=None, ax=ax, **kw)
    return ax.lines[-1]


def draw_contours(ax, curves):
    for cz, cv in curves:
        draw_curve(ax, cz, cv, color=BLUE, lw=2.6, zorder=1,
                   solid_joinstyle="round", solid_capstyle="round")


# top panel
ax = axes[0]
draw_contours(ax, [(mass_outer_top_z, mass_outer_top), (mass_outer_bot_z, mass_outer_bot),
                   (mass_mid_z, mass_mid), (mass_inner_z, mass_inner)])
draw_points(ax, mass_points)
lim1 = draw_curve(ax, mass_limit_z, mass_limit, color="black", lw=3.4,
                  linestyle=(0, (4.4, 1.8)), zorder=3)
ax.legend([lim1], [r"$M_\star$ limit"], **LEG)
ax.set_ylim(7.3, 11.8)
ax.yaxis.set_major_locator(MultipleLocator(1))
ax.set_ylabel(r"log$M_\star$ ($M_\odot$)", fontsize=26)
ax.set_title("Comparison", fontsize=20, pad=8)

# middle panel
ax = axes[1]
draw_contours(ax, [(sfr_outer_top_z, sfr_outer_top), (sfr_outer_bot_z, sfr_outer_bot),
                   (sfr_mid_z, sfr_mid), (sfr_inner_z, sfr_inner)])
draw_points(ax, sfr_points)
lim2 = draw_curve(ax, sfr_limit_z, sfr_limit, color="black", lw=3.4,
                  linestyle=(0, (4.4, 1.8)), zorder=3)
ax.legend([lim2], [r"$Herschel$ limit"], **LEG)
ax.set_ylim(-3.2, 3.2)
ax.yaxis.set_major_locator(MultipleLocator(1))
ax.set_ylabel(r"logSFR ($M_\odot$ yr$^{-1}$)", fontsize=26)

# bottom panel
ax = axes[2]
pts = draw_points(ax, lx_points)
ax.legend([pts], ["X-ray detected"], scatterpoints=1, **LEG)
ax.set_ylim(39.72, 44.61)
ax.yaxis.set_major_locator(MultipleLocator(1))
ax.set_ylabel(r"log$L_{\rm X}$ (erg s$^{-1}$)", fontsize=26)
ax.set_xlabel("Redshift", fontsize=25, labelpad=7)

for ax in axes:
    ax.set_xlim(0.3, 3.3)
    ax.xaxis.set_major_locator(MultipleLocator(0.5))
    ax.xaxis.set_minor_locator(MultipleLocator(0.1))
    ax.yaxis.set_minor_locator(AutoMinorLocator(5))
    ax.tick_params(which="both", direction="in", top=True, right=True, labelsize=14)
    ax.tick_params(which="major", length=5.5, width=1.2)
    ax.tick_params(which="minor", length=3, width=1.0)
    for sp in ax.spines.values():
        sp.set_linewidth(1.3)

fig.savefig("out.png", dpi=100)
